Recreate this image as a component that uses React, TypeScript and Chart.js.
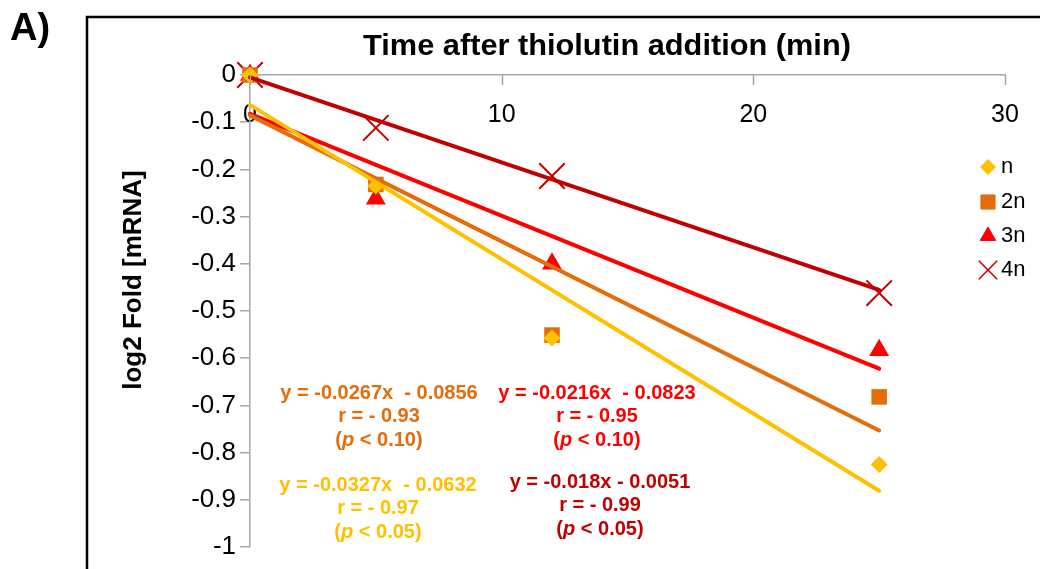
import React, { useEffect, useRef } from "react";
import { Chart, registerables } from "chart.js";
import { drawPoint } from "chart.js/helpers";

Chart.register(...registerables);

// Sampling times (min) after thiolutin addition
const timePoints = [0, 5, 12, 25];

// log2 fold change of mRNA per ploidy
const seriesNames = ["n", "2n", "3n", "4n"];
const valuesN = [0, -0.235, -0.557, -0.825];
const values2n = [0, -0.232, -0.551, -0.682];
const values3n = [0, -0.262, -0.4, -0.583];
const values4n = [0, -0.112, -0.214, -0.462];

// Linear fits: y = slope * x + intercept
const slopes = [-0.0327, -0.0267, -0.0216, -0.018];
const intercepts = [-0.0632, -0.0856, -0.0823, -0.0051];
const fitLabels = ["-0.0327x  - 0.0632", "-0.0267x  - 0.0856", "-0.0216x  - 0.0823", "-0.018x - 0.0051"];
const rLabels = ["- 0.97", "- 0.93", "- 0.95", "- 0.99"];
const pLabels = ["0.05", "0.10", "0.10", "0.05"];
const fitEnd = 25;

const xTicks = [0, 10, 20, 30];
const yMin = -1;
const yMax = 0;
const yStep = 0.1;

const colors = ["#FFC000", "#E46C0A", "#FF0000", "#C00000"];
const pointStyles = ["rectRot", "rect", "triangle", "crossRot"];
const pointRadii = [8.5, 11, 11.5, 18];
const legendRadii = [7.5, 10, 9, 13];

const FONT = "'Liberation Sans', Arial, sans-serif";
const AXIS_GRAY = "#A6A6A6";

// Where each fit's equation block sits (canvas px)
const eqCenters = [
  { x: 378, y: 485 },
  { x: 379, y: 393 },
  { x: 597, y: 393 },
  { x: 600, y: 482 },
];

const seriesValues = [valuesN, values2n, values3n, values4n];

const decorPlugin = {
  id: "decor",
  afterDraw(chart: any) {
    const ctx: CanvasRenderingContext2D = chart.ctx;
    const xs = chart.scales.x;
    ctx.save();

    // outer frame
    ctx.strokeStyle = "#000";
    ctx.lineWidth = 2.5;
    ctx.beginPath();
    ctx.moveTo(87, 572);
    ctx.lineTo(87, 17);
    ctx.lineTo(1045, 17);
    ctx.stroke();

    // x tick marks pointing into the plot
    ctx.strokeStyle = AXIS_GRAY;
    ctx.lineWidth = 1.5;
    const yAxisPix = chart.scales.y.getPixelForValue(0);
    xs.ticks.forEach((t: any) => {
      const px = Math.round(xs.getPixelForValue(t.value)) + 0.5;
      ctx.beginPath();
      ctx.moveTo(px, yAxisPix);
      ctx.lineTo(px, yAxisPix + 10);
      ctx.stroke();
    });

    // panel letter
    ctx.fillStyle = "#000";
    ctx.textAlign = "left";
    ctx.textBaseline = "alphabetic";
    ctx.font = `bold 38px ${FONT}`;
    ctx.fillText("A)", 10, 40);

    // axis titles
    ctx.textAlign = "center";
    ctx.textBaseline = "middle";
    ctx.save();
    ctx.translate(607, 47);
    ctx.scale(1.06, 1);
    ctx.font = `bold 29px ${FONT}`;
    ctx.fillText("Time after thiolutin addition (min)", 0, 0);
    ctx.restore();

    ctx.save();
    ctx.translate(134, 280);
    ctx.rotate(-Math.PI / 2);
    ctx.font = `bold 26px ${FONT}`;
    ctx.fillText("log2 Fold [mRNA]", 0, 0);
    ctx.restore();

    // legend
    const legendY = [167, 202, 236, 270];
    seriesNames.forEach((name, i) => {
      const ds = chart.data.datasets[4 + i];
      ctx.save();
      ctx.fillStyle = ds.backgroundColor;
      ctx.strokeStyle = ds.borderColor;
      ctx.lineWidth = i === 3 ? 1.5 : 1;
      drawPoint(ctx, { pointStyle: pointStyles[i], radius: legendRadii[i], rotation: 0, borderWidth: ctx.lineWidth }, 988, legendY[i]);
      ctx.restore();
      ctx.fillStyle = "#000";
      ctx.textAlign = "left";
      ctx.textBaseline = "middle";
      ctx.font = `22px ${FONT}`;
      ctx.fillText(name, 1001, legendY[i]);
    });

    // fit equations
    const bold = `bold 20px ${FONT}`;
    const boldItalic = `italic bold 20px ${FONT}`;
    eqCenters.forEach((c, i) => {
      ctx.fillStyle = colors[i];
      ctx.textBaseline = "middle";
      ctx.textAlign = "center";
      ctx.font = bold;
      ctx.fillText(`y = ${fitLabels[i]}`, c.x, c.y);
      ctx.fillText(`r = ${rLabels[i]}`, c.x, c.y + 23);
      // "(p < x)" with italic p
      const parts = [
        { t: "(", f: bold },
        { t: "p", f: boldItalic },
        { t: ` < ${pLabels[i]})`, f: bold },
      ];
      let total = 0;
      parts.forEach((p) => {
        ctx.font = p.f;
        total += ctx.measureText(p.t).width;
      });
      let x0 = c.x - total / 2;
      ctx.textAlign = "left";
      parts.forEach((p) => {
        ctx.font = p.f;
        ctx.fillText(p.t, x0, c.y + 47);
        x0 += ctx.measureText(p.t).width;
      });
    });

    ctx.restore();
  },
};

export default function App() {
  const canvasRef = useRef<HTMLCanvasElement | null>(null);

  useEffect(() => {
    const canvas = canvasRef.current;
    if (!canvas) return;

    const fitDatasets = slopes.map((m, i) => ({
      label: `${seriesNames[i]} fit`,
      data: [
        { x: 0, y: intercepts[i] },
        { x: fitEnd, y: m * fitEnd + intercepts[i] },
      ],
      showLine: true,
      borderColor: colors[i],
      backgroundColor: colors[i],
      borderWidth: 4,
      borderCapStyle: "round" as const,
      pointRadius: 0,
      clip: false,
    }));

    const pointDatasets = seriesNames.map((name, i) => ({
      label: name,
      data: timePoints.map((t, k) => ({ x: t, y: seriesValues[i][k] })),
      showLine: false,
      pointStyle: pointStyles[i],
      pointRadius: pointRadii[i],
      backgroundColor: colors[i],
      borderColor: colors[i],
      pointBorderWidth: i === 3 ? 2 : 0,
      clip: false,
    }));

    const chart = new Chart(canvas, {
      type: "scatter",
      data: { datasets: [...fitDatasets, ...pointDatasets] as any },
      options: {
        responsive: false,
        animation: false,
        events: [],
        layout: { padding: { left: 0, top: 17, right: 35, bottom: 22 } },
        plugins: { legend: { display: false }, tooltip: { enabled: false } },
        scales: {
          x: {
            type: "linear",
            position: "top",
            min: xTicks[0],
            max: xTicks[xTicks.length - 1],
            afterBuildTicks: (scale: any) => {
              scale.ticks = xTicks.map((v) => ({ value: v }));
            },
            afterFit: (scale: any) => {
              scale.height = 58;
              scale.paddingLeft = 0;
              scale.paddingRight = 0;
            },
            ticks: {
              mirror: true,
              padding: 25,
              color: "#000",
              font: { family: FONT, size: 25 },
            },
            grid: { display: false },
            border: { display: true, color: AXIS_GRAY, width: 1.5 },
          },
          y: {
            type: "linear",
            min: yMin,
            max: yMax,
            ticks: {
              stepSize: yStep,
              padding: 4,
              color: "#000",
              font: { family: FONT, size: 26 },
              callback: (v: any) => String(Number(Number(v).toFixed(1))),
            },
            afterFit: (scale: any) => {
              scale.width = 250;
              scale.paddingTop = 0;
              scale.paddingBottom = 0;
            },
            grid: { drawOnChartArea: false, drawTicks: true, tickLength: 10, color: AXIS_GRAY, lineWidth: 1.5 },
            border: { display: true, color: AXIS_GRAY, width: 1.5 },
          },
        },
      },
      plugins: [decorPlugin],
    });

    return () => chart.destroy();
  }, []);

  return (
    <div style={{ position: "absolute", left: 0, top: 0, width: 1040, height: 569, background: "#fff" }}>
      <canvas ref={canvasRef} width={1040} height={569} />
    </div>
  );
}
